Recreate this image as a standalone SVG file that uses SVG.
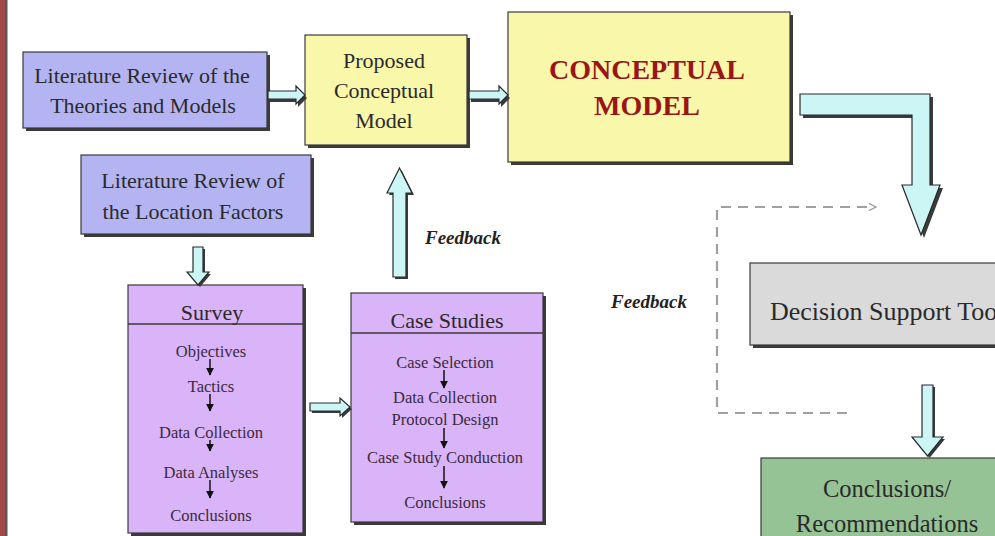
<svg xmlns="http://www.w3.org/2000/svg" width="995" height="536" viewBox="0 0 995 536">
<style>
.sh{fill:#3a3a3a}
.bx{stroke:#3a3a3a;stroke-width:1.2}
.blue{fill:#b4b4f3}
.yel{fill:#f9f7aa}
.pur{fill:#dab4f8}
.gry{fill:#dadada}
.grn{fill:#96c395}
.t{font-family:"Liberation Serif","Times New Roman",serif;fill:#2a2a2a;text-anchor:middle}
.big{font-size:22px}
.itm{font-size:16.5px;fill:#3a2a40}
.cm{font-size:28px;font-weight:bold;fill:#9a1515}
.fb{font-family:"Liberation Serif",serif;font-size:19px;font-weight:bold;font-style:italic;fill:#222}
.ba{fill:#ccf6f6;stroke:#2a2a2a;stroke-width:1.2;stroke-linejoin:miter}
.bas{fill:#3a3a3a}
.sa{stroke:#111;stroke-width:1.5;fill:none}
.dash{fill:none;stroke:#a0a0a0;stroke-width:2.2;stroke-dasharray:10 7}
</style>
<defs>
<marker id="ah" viewBox="0 0 10 10" refX="9" refY="5" markerWidth="8" markerHeight="8" orient="auto" markerUnits="userSpaceOnUse">
<path d="M0,0 L10,5 L0,10 Z" fill="#111"/>
</marker>
<marker id="dh" viewBox="0 0 10 10" refX="9" refY="5" markerWidth="9" markerHeight="9" orient="auto" markerUnits="userSpaceOnUse">
<path d="M1,1 L9,5 L1,9" fill="none" stroke="#a0a0a0" stroke-width="1.5"/>
</marker>
</defs>
<rect x="0" y="0" width="995" height="536" fill="#ffffff"/>
<rect x="0" y="0" width="5" height="536" fill="#a04a4a"/>
<rect x="5" y="0" width="2.5" height="536" fill="#5a5a5a"/>

<g id="n1">
<rect class="sh" x="26" y="55" width="244" height="76"/>
<rect class="bx blue" x="23" y="52" width="244" height="76"/>
<text class="t big" x="142" y="83">Literature Review of the</text>
<text class="t big" x="143" y="113">Theories and Models</text>
</g>

<g id="n2">
<rect class="sh" x="308" y="38" width="162" height="110"/>
<rect class="bx yel" x="305" y="35" width="162" height="110"/>
<text class="t big" x="384" y="68">Proposed</text>
<text class="t big" x="384" y="98">Conceptual</text>
<text class="t big" x="384" y="128">Model</text>
</g>

<g id="n3">
<rect class="sh" x="511" y="15" width="282" height="150"/>
<rect class="bx yel" x="508" y="12" width="282" height="150"/>
<text class="t cm" x="647" y="79">CONCEPTUAL</text>
<text class="t cm" x="647" y="115">MODEL</text>
</g>

<g id="n4">
<rect class="sh" x="84" y="158" width="230" height="79"/>
<rect class="bx blue" x="81" y="155" width="230" height="79"/>
<text class="t big" x="193" y="188">Literature Review of</text>
<text class="t big" x="193" y="219">the Location Factors</text>
</g>

<g id="n5">
<rect class="sh" x="131" y="288" width="175" height="248"/>
<rect class="bx pur" x="128" y="285" width="175" height="248"/>
<line x1="128" y1="324" x2="303" y2="324" stroke="#3a3a3a" stroke-width="1.5"/>
<text class="t big" x="212" y="320">Survey</text>
<text class="t itm" x="211" y="357">Objectives</text>
<text class="t itm" x="211" y="392">Tactics</text>
<text class="t itm" x="211" y="438">Data Collection</text>
<text class="t itm" x="211" y="478">Data Analyses</text>
<text class="t itm" x="211" y="521">Conclusions</text>
<line class="sa" x1="210" y1="359" x2="210" y2="375" marker-end="url(#ah)"/>
<line class="sa" x1="210" y1="394" x2="210" y2="411" marker-end="url(#ah)"/>
<line class="sa" x1="210" y1="440" x2="210" y2="451" marker-end="url(#ah)"/>
<line class="sa" x1="210" y1="480" x2="210" y2="498" marker-end="url(#ah)"/>
</g>

<g id="n6">
<rect class="sh" x="354" y="296" width="192" height="229"/>
<rect class="bx pur" x="351" y="293" width="192" height="229"/>
<line x1="351" y1="333" x2="543" y2="333" stroke="#3a3a3a" stroke-width="1.5"/>
<text class="t big" x="447" y="328">Case Studies</text>
<text class="t itm" x="445" y="368">Case Selection</text>
<text class="t itm" x="445" y="403">Data Collection</text>
<text class="t itm" x="445" y="425">Protocol Design</text>
<text class="t itm" x="445" y="463">Case Study Conduction</text>
<text class="t itm" x="445" y="508">Conclusions</text>
<line class="sa" x1="444" y1="370" x2="444" y2="388" marker-end="url(#ah)"/>
<line class="sa" x1="444" y1="428" x2="444" y2="448" marker-end="url(#ah)"/>
<line class="sa" x1="444" y1="466" x2="444" y2="488" marker-end="url(#ah)"/>
</g>

<g id="n7">
<rect class="sh" x="753" y="266" width="250" height="82"/>
<rect class="bx gry" x="750" y="263" width="250" height="82"/>
<text class="t" style="font-size:26px;text-anchor:start" x="770" y="320">Decision Support Tool</text>
</g>

<g id="n8">
<rect class="bx grn" x="761" y="458" width="250" height="90"/>
<text class="t" style="font-size:24.5px" x="887" y="497">Conclusions/</text>
<text class="t" style="font-size:24.5px" x="887" y="532">Recommendations</text>
</g>

<g id="connectors">
<path class="bas" d="M270,94 H298 V89 L307,98 L298,107 V102 H270 Z"/>
<path class="ba" d="M268,91 H296 V86 L305,95 L296,104 V99 H268 Z"/>
<path class="bas" d="M471,94 H501 V89 L510,98 L501,107 V102 H471 Z"/>
<path class="ba" d="M469,91 H499 V86 L508,95 L499,104 V99 H469 Z"/>
<path class="bas" d="M803,97 H933 V188 H943 L924,238 L905,188 H915 V118 H803 Z"/>
<path class="ba" d="M800,94 H930 V185 H940 L921,235 L902,185 H912 V115 H800 Z"/>
<path class="bas" d="M195,249 H205 V274 H211 L200,287 L189,274 H195 Z"/>
<path class="ba" d="M193,247 H203 V272 H209 L198,285 L187,272 H193 Z"/>
<path class="bas" d="M312,405 H342 V400 L352,409 L342,418 V413 H312 Z"/>
<path class="ba" d="M310,403 H340 V398 L350,407 L340,416 V411 H310 Z"/>
<path class="bas" d="M395,279 V195 H389 L401.5,170 L414,195 H408 V279 Z"/>
<path class="ba" d="M393,277 V193 H387 L399.5,168 L412,193 H406 V277 Z"/>
<path class="bas" d="M924,387 H935 V439 H945 L929.5,458 L914,439 H924 Z"/>
<path class="ba" d="M922,385 H933 V437 H943 L927.5,456 L912,437 H922 Z"/>
<path class="dash" d="M847,413 H717 V207 H876" marker-end="url(#dh)"/>
<text class="fb" x="425" y="244">Feedback</text>
<text class="fb" x="611" y="308">Feedback</text>
</g>
</svg>
